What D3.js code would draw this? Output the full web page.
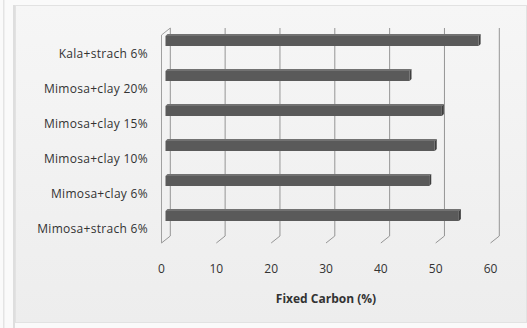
<!DOCTYPE html>
<html><head><meta charset="utf-8">
<script src="https://cdn.jsdelivr.net/npm/d3@7"></script>
<style>html,body{margin:0;padding:0;background:#f9f9f9;}svg{display:block;}</style>
</head><body>
<script>
const categories = ["Kala+strach 6%","Mimosa+clay 20%","Mimosa+clay 15%","Mimosa+clay 10%","Mimosa+clay 6%","Mimosa+strach 6%"];
const values = [57.1, 44.5, 50.4, 49.1, 48.1, 53.5];
const xTicks = [0,10,20,30,40,50,60];
const xTitle = "Fixed Carbon (%)";

const W=527,H=328;
const svg=d3.select("body").append("svg").attr("width",W).attr("height",H);
const defs=svg.append("defs");
const g1=defs.append("linearGradient").attr("id","bg").attr("x1",0).attr("y1",0).attr("x2",0).attr("y2",1);
g1.append("stop").attr("offset","0%").attr("stop-color","#f6f6f6");
g1.append("stop").attr("offset","100%").attr("stop-color","#ededed");
svg.append("rect").attr("x",0).attr("y",0).attr("width",W).attr("height",H).attr("fill","#fafafa");
svg.append("rect").attr("x",3).attr("y",0).attr("width",1.5).attr("height",H).attr("fill","#e4e4e4");
svg.append("rect").attr("x",13).attr("y",5).attr("width",2).attr("height",H).attr("fill","#dedede");
svg.append("rect").attr("x",15.5).attr("y",5.5).attr("width",W-16).attr("height",H-11).attr("fill","url(#bg)").attr("stroke","#e2e2e2");

const dx=8.8, dy=-7;
const xF=d3.scaleLinear().domain([0,60]).range([161.5,490.5]);
const xB=v=>xF(v)+dx;
const xM=v=>xF(v)+4;
const y=d3.scaleBand().domain(categories).range([36,246]);
const plotTop=28, plotBot=243;

const grid=svg.append("g").attr("stroke","#959595").attr("stroke-width",1).attr("fill","none");
xTicks.forEach(t=>{
  grid.append("path").attr("d",`M${xB(t)},${plotTop}V${plotBot+dy}L${xF(t)},${plotBot}`);
});
grid.append("path").attr("d",`M${xF(0)},${plotBot}V${plotTop-dy}L${xB(0)},${plotTop}`).attr("stroke","#a0a0a0");

const bars=svg.append("g");
categories.forEach((c,i)=>{
  const cy=y(c)+y.bandwidth()/2-13.5;
  const x0=xM(0), x1=xM(values[i]);
  const h=10, d=2;
  const yt=cy-h/2+1;
  bars.append("path").attr("d",`M${x0},${yt}L${x0+d},${yt-d}L${x1+d},${yt-d}L${x1},${yt}Z`).attr("fill","#727272");
  bars.append("path").attr("d",`M${x1},${yt}L${x1+d},${yt-d}L${x1+d},${yt+h-d}L${x1},${yt+h}Z`).attr("fill","#3f3f3f");
  bars.append("rect").attr("x",x0).attr("y",yt).attr("width",x1-x0).attr("height",h).attr("fill","#5a5a5a");
});

svg.append("g").selectAll("text").data(categories).join("text")
  .attr("x",148).attr("y",d=>y(d)+y.bandwidth()/2).attr("dy","0.35em")
  .attr("text-anchor","end").attr("font-family","Open Sans, sans-serif").attr("font-size","12px")
  .attr("letter-spacing","0.3px").attr("fill","#333").text(d=>d);

svg.append("g").selectAll("text").data(xTicks).join("text")
  .attr("x",d=>xF(d)).attr("y",273).attr("text-anchor","middle")
  .attr("font-family","Open Sans, sans-serif").attr("font-size","12px").attr("fill","#333").text(d=>d);

svg.append("text").attr("x",326).attr("y",303).attr("text-anchor","middle")
  .attr("font-family","Open Sans, sans-serif").attr("font-size","12px").attr("font-weight","bold")
  .attr("fill","#333").text(xTitle);
</script>
</body></html>
